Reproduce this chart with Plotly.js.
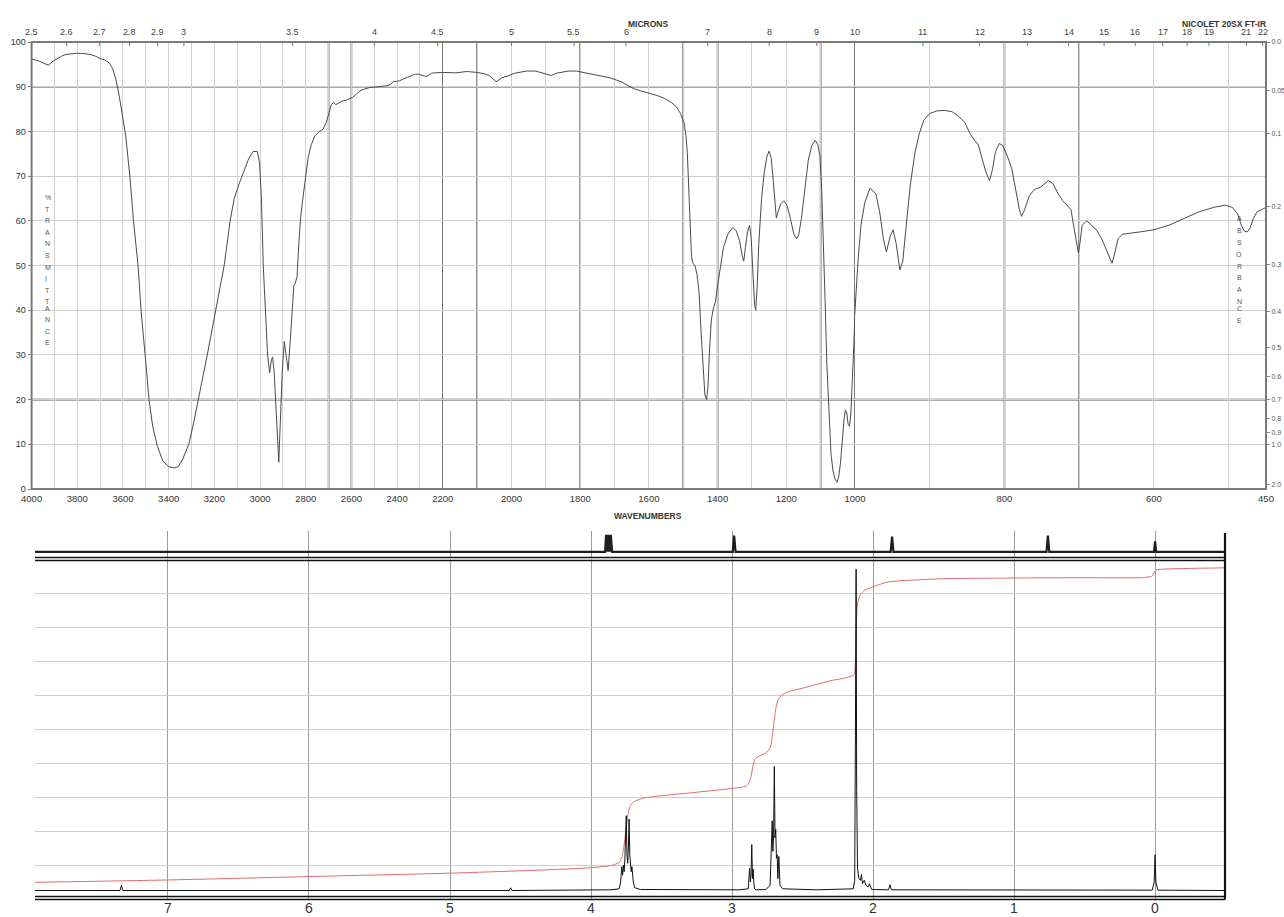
<!DOCTYPE html>
<html><head><meta charset="utf-8">
<script src="https://cdn.plot.ly/plotly-3.0.1.min.js"></script>
<style>html,body{margin:0;padding:0;background:#fff;}#chart{width:1284px;height:917px;}</style>
</head><body><div id="chart"></div>
<script>
// ---------------- IR spectrum data ----------------
const irWavenumber = [4000,3970,3945,3925,3910,3890,3870,3850,3820,3800,3770,3740,3720,3700,3680,3660,3645,3630,3615,3604,3588,3570,3554,3534,3521,3503,3486,3470,3449,3425,3400,3376,3358,3340,3312,3290,3270,3250,3231,3194,3157,3131,3113,3090,3076,3049,3030,3012,3002,2994,2986,2977,2967,2958,2950,2945,2938,2930,2923,2918,2912,2903,2894,2886,2877,2868,2859,2852,2846,2838,2830,2822,2810,2800,2790,2776,2760,2740,2724,2710,2698,2688,2678,2668,2658,2640,2622,2595,2575,2558,2522,2490,2468,2445,2430,2415,2404,2390,2370,2344,2320,2306,2290,2269,2250,2233,2200,2162,2130,2101,2080,2065,2045,2028,2010,1992,1970,1956,1930,1908,1895,1884,1870,1850,1835,1811,1790,1775,1750,1730,1714,1695,1678,1660,1642,1620,1596,1575,1555,1535,1520,1508,1498,1492,1488,1484,1480,1476,1472,1466,1460,1454,1448,1442,1437,1432,1428,1423,1418,1412,1406,1400,1392,1383,1370,1356,1346,1336,1328,1324,1319,1313,1307,1302,1297,1292,1289,1285,1280,1272,1264,1256,1250,1244,1238,1232,1229,1224,1216,1207,1198,1188,1178,1170,1164,1156,1146,1136,1126,1116,1108,1102,1097,1092,1087,1082,1076,1070,1064,1058,1052,1047,1042,1037,1032,1028,1024,1020,1016,1012,1007,1003,1000,996,992,987,980,972,967,962,958,953,949,945,940,936,932,926,920,914,908,900,890,880,870,862,853,846,840,835,830,825,820,816,812,807,802,795,790,784,780,777,773,767,760,752,745,741,735,728,722,716,711,707,703,701,699,696,690,684,677,670,664,659,656,652,648,642,630,619,600,580,560,540,520,505,495,488,483,479,475,471,467,462,456,450];
const irTransmittance = [96.2,95.8,95.2,94.8,95.6,96.3,96.8,97.2,97.4,97.5,97.4,97.2,96.8,96.3,96.0,95.3,94,91.5,87.5,84,79,70,60,50,40,30,20,14,9.5,6.2,5,4.7,5,6.5,10,15,20,25.5,30,40,50,60,65,68.5,70.5,74,75.5,75.5,73,65,50,40,30,26,29,29.5,26,18,9,6,14,26,33,30,26.5,33,41,45.5,46,47.5,55,61,66,70,74,77,79,80,80.5,82,84.5,86,86.5,86,86.3,86.8,87,87.6,88.5,89.2,89.8,90,90.1,90.2,90.5,91.2,91.2,91.3,91.8,92.3,92.8,92.8,92.5,92.3,93,93.1,93.2,93.1,93.4,93.2,92.9,92.5,91.1,92,92.4,93,93.3,93.5,93.5,93,92.6,92.5,93,93.3,93.5,93.5,93.2,93,92.6,92.2,92,91.5,91,90.2,89.5,89,88.5,88,87.4,86.5,85.5,84,82,79,75,67,58,52,50.5,50,48,44,35,26,21,20,23,32,38,40.5,42,45.5,50,54,57,58.5,57.8,55.5,52,51,54,57.5,59,56,48,41,40,45,55,65,71,74.5,75.6,74,69,62,60.6,62,63.8,64.5,63.5,60.5,57,56,56.8,60.5,67.5,73.5,76.8,78,77,74.5,67,56,42,28,16,8,4,2.2,1.5,3,6,11,15.5,17.7,17,14.5,14,17,25,33,40,51,59,64,67.3,66,62,56,53,56.5,58,55,49,51,58,68,75,79.5,82.5,84,84.6,84.7,84.4,83.5,82,79.5,78,77,74,71,69,71.5,75.5,77.3,76.8,74,71.5,66,62.5,61,62.5,65.5,67,67.5,68.5,69,68.3,66,64.5,63.5,62.5,58.5,54,52.8,55,59,60,59,58,56,53.5,51.5,50.5,53,56,57,57.2,57.5,58,59,60.5,62,63,63.5,63,61.5,59,57.7,57.5,58.5,60.5,62,62.5,63];
const irBottomLabels = [4000,3800,3600,3400,3200,3000,2800,2600,2400,2200,2000,1800,1600,1400,1200,1000,800,600,450];
const irPercentTicks = [0,10,20,30,40,50,60,70,80,90,100];
const micronLabels = [2.5,2.6,2.7,2.8,2.9,3,3.5,4,4.5,5,5.5,6,7,8,9,10,11,12,13,14,15,16,17,18,19,21,22];
const absorbanceValues = [0,0.05,0.1,0.2,0.3,0.4,0.5,0.6,0.7,0.8,0.9,1.0,2.0];
const absorbanceLabels = ['0.0','0.05','0.1','0.2','0.3','0.4','0.5','0.6','0.7','0.8','0.9','1.0','2.0'];
const irHeavyWavenumbers = [2700,2600,2200,2100,1800,1500,1400,1100,1000,800,700];
const irHeavyPercents = [20,90];

// ---------------- 1H NMR data ----------------
const nmrPpm = [7.943,7.34,7.33,7.32,4.58,4.57,4.56,3.86,3.80,3.79,3.782,3.776,3.77,3.765,3.76,3.755,3.75,3.745,3.74,3.735,3.73,3.725,3.72,3.715,3.71,3.705,3.70,3.69,3.65,2.95,2.885,2.875,2.87,2.865,2.86,2.855,2.85,2.845,2.84,2.83,2.76,2.73,2.722,2.715,2.71,2.705,2.70,2.695,2.69,2.685,2.68,2.675,2.668,2.66,2.64,2.40,2.14,2.13,2.125,2.12,2.116,2.11,2.10,2.09,2.082,2.075,2.062,2.05,2.035,2.025,2.01,1.89,1.88,1.87,0.02,0.006,0.0,-0.006,-0.02,-0.496];
const nmrIntensity = [0.25,0.25,0.4,0.25,0.25,0.33,0.25,0.27,0.3,0.5,0.95,0.7,1.0,0.8,1.15,1.6,2.45,1.3,1.05,1.5,2.35,1.3,1.0,0.8,0.95,0.7,0.5,0.33,0.28,0.27,0.3,0.9,0.5,0.7,1.6,0.6,0.88,0.45,0.3,0.27,0.28,0.4,1.2,2.3,1.4,1.9,3.9,1.8,2.05,1.2,1.3,0.6,1.25,0.4,0.3,0.27,0.3,0.55,4.8,9.7,3.2,0.9,0.6,0.55,0.72,0.45,0.55,0.4,0.35,0.45,0.28,0.27,0.42,0.27,0.26,0.5,1.3,0.5,0.26,0.25];
const integralPpm = [7.943,7.0,6.0,5.0,4.3,4.0,3.85,3.80,3.78,3.765,3.75,3.735,3.72,3.70,3.65,3.6,3.3,3.0,2.9,2.88,2.865,2.85,2.835,2.8,2.76,2.73,2.715,2.70,2.685,2.67,2.65,2.6,2.5,2.3,2.2,2.135,2.125,2.118,2.11,2.09,2.06,2.0,1.9,1.8,1.5,1.0,0.5,0.1,0.02,0.005,-0.01,-0.05,-0.2,-0.496];
const integralValue = [0.49,0.56,0.66,0.76,0.86,0.92,0.99,1.08,1.25,1.6,2.1,2.55,2.75,2.85,2.94,2.99,3.12,3.25,3.32,3.42,3.6,3.95,4.13,4.22,4.3,4.45,4.75,5.3,5.7,5.88,5.98,6.1,6.2,6.42,6.5,6.6,7.0,8.1,8.7,8.95,9.08,9.18,9.32,9.36,9.42,9.44,9.45,9.45,9.5,9.62,9.68,9.7,9.72,9.74];
const stripPpm = [7.943,3.90,3.893,3.888,3.883,3.876,3.871,3.866,3.86,3.855,3.85,2.995,2.985,2.975,1.875,1.865,1.855,0.77,0.76,0.75,0.008,0.0,-0.008,-0.496];
const stripValue = [0.2,0.2,0.85,0.2,0.85,0.2,0.85,0.2,0.85,0.2,0.2,0.2,0.82,0.2,0.2,0.78,0.2,0.2,0.82,0.2,0.2,0.6,0.2,0.2];
const ppmTicks = [0,1,2,3,4,5,6,7];

// ---------------- layout helpers ----------------
const W = 1284, H = 917;
const fx = v => v / W, fy = v => 1 - v / H;
const F = 'Arial, "Liberation Sans", sans-serif';
const irEdges = [31.6, 442.8, 855, 1266];
const irRanges = [[4000, 2200], [2200, 1000], [1000, 450]];
const irAxisIds = ['x', 'x2', 'x3'];
const irTopPx = 42, irBotPx = 489;
function axisFor(w) { return w >= 2200 ? 'x' : (w >= 1000 ? 'x2' : 'x3'); }

function irXAxis(i) {
  const [a, b] = irRanges[i];
  const vals = [];
  for (let v = a; v >= b; v -= 100) vals.push(v);
  if (vals[vals.length - 1] !== b) vals.push(b);
  const labels = irBottomLabels.filter(v => v <= a && v >= b && !(i > 0 && v === a));
  return {
    domain: [fx(irEdges[i]), fx(irEdges[i + 1])], range: [a, b], anchor: 'y',
    tickmode: 'array', tickvals: vals,
    ticktext: vals.map(v => labels.includes(v) ? String(v) : ''),
    showgrid: true, gridcolor: '#d0d0d0', gridwidth: 1,
    ticks: '', ticklabelstandoff: 2, tickfont: { size: 9.5, color: '#333', family: F },
    showline: false, zeroline: false, fixedrange: true
  };
}

const traces = [];
irAxisIds.forEach(id => traces.push({
  x: irWavenumber, y: irTransmittance, xaxis: id, yaxis: 'y', type: 'scatter', mode: 'lines',
  line: { color: '#4a4a4a', width: 1 }, hoverinfo: 'skip', showlegend: false
}));
traces.push({ x: [1000, 450], y: [null, null], xaxis: 'x3', yaxis: 'y2', type: 'scatter', mode: 'lines', showlegend: false, hoverinfo: 'skip' });
traces.push({ x: stripPpm, y: stripValue, xaxis: 'x4', yaxis: 'y4', type: 'scatter', mode: 'lines',
  line: { color: '#1e1e1e', width: 2.2 }, hoverinfo: 'skip', showlegend: false });
traces.push({ x: integralPpm, y: integralValue, xaxis: 'x4', yaxis: 'y3', type: 'scatter', mode: 'lines',
  line: { color: '#e36a6a', width: 1, shape: 'spline', smoothing: 0.6 }, hoverinfo: 'skip', showlegend: false });
traces.push({ x: nmrPpm, y: nmrIntensity, xaxis: 'x4', yaxis: 'y3', type: 'scatter', mode: 'lines',
  line: { color: '#111', width: 1 }, hoverinfo: 'skip', showlegend: false });

const shapes = [];
const annotations = [];

// IR heavy grid lines
irHeavyWavenumbers.forEach(w => shapes.push({ type: 'line', xref: axisFor(w), yref: 'paper', x0: w, x1: w,
  y0: fy(irBotPx), y1: fy(irTopPx), line: { color: '#555', width: 1.6 }, layer: 'between' }));
irHeavyPercents.forEach(p => shapes.push({ type: 'line', xref: 'paper', yref: 'y', x0: fx(irEdges[0]), x1: fx(irEdges[3]),
  y0: p, y1: p, line: { color: '#555', width: 1.6 }, layer: 'between' }));
// white gaps behind vertical captions
shapes.push({ type: 'rect', xref: 'paper', yref: 'paper', x0: fx(38.5), x1: fx(48.5), y0: fy(348), y1: fy(186), fillcolor: '#fff', line: { width: 0 }, layer: 'between' });
shapes.push({ type: 'rect', xref: 'paper', yref: 'paper', x0: fx(1239), x1: fx(1249), y0: fy(326), y1: fy(207), fillcolor: '#fff', line: { width: 0 }, layer: 'between' });
// IR frame
shapes.push({ type: 'rect', xref: 'paper', yref: 'paper', x0: fx(irEdges[0]), x1: fx(irEdges[3]), y0: fy(irBotPx), y1: fy(irTopPx),
  line: { color: '#7a7a7a', width: 2 }, layer: 'above' });
// micron ticks + labels
micronLabels.forEach(m => {
  const w = 10000 / m;
  const ax = axisFor(w);
  shapes.push({ type: 'line', xref: ax, yref: 'paper', x0: w, x1: w, y0: fy(irTopPx), y1: fy(irTopPx + 4), line: { color: '#777', width: 1 } });
  annotations.push({ xref: ax, yref: 'paper', x: w, y: fy(32), text: String(m), showarrow: false,
    xanchor: 'center', yanchor: 'middle', font: { size: 9, color: '#444', family: F } });
});
// titles
annotations.push({ xref: 'paper', yref: 'paper', x: fx(648), y: fy(17), text: '<b>MICRONS</b>', showarrow: false, font: { size: 8.5, color: '#333', family: F } });
annotations.push({ xref: 'paper', yref: 'paper', x: fx(1268), y: fy(17), xanchor: 'right', text: '<b>NICOLET 20SX FT-IR</b>', showarrow: false, font: { size: 8.5, color: '#333', family: F } });
annotations.push({ xref: 'paper', yref: 'paper', x: fx(648), y: fy(516), text: '<b>WAVENUMBERS</b>', showarrow: false, font: { size: 8.5, color: '#333', family: F } });
// vertical captions
'%TRANSMITTANCE'.split('').forEach((c, i) => annotations.push({ xref: 'paper', yref: 'paper', x: fx(43.5), y: fy(192 + i * 11.6),
  text: c, showarrow: false, font: { size: 7, color: '#555', family: F } }));
'ABSORBANCE'.split('').forEach((c, i) => annotations.push({ xref: 'paper', yref: 'paper', x: fx(1244), y: fy(213 + i * 11.9),
  text: c, showarrow: false, font: { size: 7, color: '#555', family: F } }));

// NMR ppm labels
ppmTicks.forEach(p => annotations.push({ xref: 'x4', yref: 'paper', x: p, y: fy(916.5), yanchor: 'bottom', xanchor: 'center',
  text: String(p), showarrow: false, borderpad: 0, font: { size: 14, color: '#333', family: F } }));

// NMR frame lines
const nmrL = 35, nmrR = 1225;
[557.5, 560.5, 896.5, 899.5].forEach(yp => shapes.push({ type: 'line', xref: 'paper', yref: 'paper', x0: fx(nmrL), x1: fx(nmrR),
  y0: fy(yp), y1: fy(yp), line: { color: '#111', width: 1.5 }, layer: 'above' }));
shapes.push({ type: 'line', xref: 'paper', yref: 'paper', x0: fx(nmrR), x1: fx(nmrR), y0: fy(899.5), y1: fy(533),
  line: { color: '#111', width: 2.2 }, layer: 'above' });

const layout = {
  width: W, height: H, margin: { l: 0, r: 0, t: 0, b: 0 },
  paper_bgcolor: '#fff', plot_bgcolor: 'rgba(0,0,0,0)', showlegend: false,
  font: { family: F, color: '#333' },
  xaxis: irXAxis(0), xaxis2: irXAxis(1), xaxis3: irXAxis(2),
  yaxis: {
    domain: [fy(irBotPx), fy(irTopPx)], range: [0, 100], anchor: 'x', tickmode: 'array', tickvals: irPercentTicks,
    showgrid: true, gridcolor: '#d0d0d0', ticks: 'outside', ticklen: 3, tickcolor: '#888',
    tickfont: { size: 9, color: '#333', family: F }, zeroline: false, showline: false, fixedrange: true
  },
  yaxis2: {
    overlaying: 'y', anchor: 'x3', side: 'right', range: [0, 100], tickmode: 'array',
    tickvals: absorbanceValues.map(a => 100 * Math.pow(10, -a)), ticktext: absorbanceLabels,
    ticks: 'outside', ticklen: 3, tickcolor: '#888', showgrid: false, zeroline: false, showline: false,
    tickfont: { size: 7, color: '#555', family: F }, fixedrange: true
  },
  xaxis4: {
    domain: [fx(nmrL), fx(nmrR)], range: [7.943, -0.496], anchor: 'y3', tickmode: 'array', tickvals: ppmTicks,
    showticklabels: false, showgrid: true, gridcolor: '#9c9c9c', gridwidth: 1, ticks: '',
    zeroline: false, showline: false, fixedrange: true
  },
  yaxis3: {
    domain: [fy(899), fy(559)], range: [0, 10], anchor: 'x4', tickmode: 'linear', tick0: 0, dtick: 1,
    showgrid: true, gridcolor: '#cdcdcd', showticklabels: false, ticks: '', zeroline: false, showline: false, fixedrange: true
  },
  yaxis4: {
    domain: [fy(557), fy(531)], range: [0, 1], anchor: 'x4', showgrid: false, showticklabels: false,
    ticks: '', zeroline: false, showline: false, fixedrange: true
  },
  shapes: shapes, annotations: annotations
};
Plotly.newPlot('chart', traces, layout, { displayModeBar: false, staticPlot: true });
</script></body></html>
